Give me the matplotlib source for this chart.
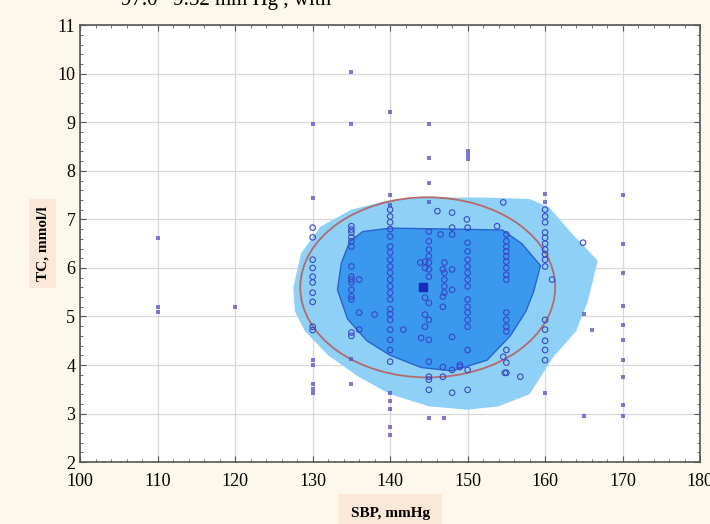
import numpy as np
import matplotlib.pyplot as plt
from matplotlib.patches import Ellipse, Polygon
from matplotlib.ticker import MultipleLocator

plt.rcParams['font.family'] = ['Liberation Serif', 'DejaVu Serif']

# points outside the confidence region (drawn as small filled stars)
x_out = [110, 110, 110, 120,
         130, 130, 130, 130, 130, 130, 130,
         135, 135, 135, 135,
         140, 140, 140, 140, 140, 140, 140, 140,
         145, 145, 145, 145, 145, 147,
         150, 150, 150,
         160, 160, 160,
         165, 165, 166,
         170, 170, 170, 170, 170, 170, 170, 170, 170, 170]
y_out = [6.62, 5.2, 5.1, 5.2,
         8.96, 7.45, 4.1, 4.0, 3.62, 3.5, 3.42,
         10.04, 8.96, 4.12, 3.62,
         9.22, 7.5, 7.3, 3.42, 3.25, 3.1, 2.72, 2.55,
         8.96, 8.26, 7.74, 7.35, 2.9, 2.9,
         8.4, 8.32, 8.24,
         7.52, 7.35, 3.42,
         5.06, 2.95, 4.72,
         7.5, 6.5, 5.9, 5.22, 4.82, 4.52, 4.1, 3.75, 3.18, 2.95]

# points inside (drawn as open circles)
x_in = [130, 130, 130, 130, 130, 130, 130, 130, 130, 130,
        135, 135, 135, 135, 135, 135, 135, 135, 135, 135, 135, 135, 135, 135,
        136, 136, 136, 138, 135,
        140, 140, 140, 140, 140, 140, 140, 140, 140, 140, 140,
        140, 140, 140, 140, 140, 140, 140, 140, 140, 140,
        141.7, 143.9, 144, 144.5, 144.5, 144.5, 144.5, 144.5,
        145, 145, 145, 145, 145, 145, 145, 145, 145, 145, 145, 145, 145, 145,
        146.1, 146.5, 146.8, 146.8, 146.8, 146.8, 146.8,
        147, 147, 147, 147, 147,
        148, 148, 148, 148, 148, 148, 148, 148, 149, 149,
        150, 150, 150, 150, 150, 150, 150, 150, 150, 150, 150, 150, 150, 150, 150,
        150, 149.9,
        153.8, 154.6, 154.6, 154.8,
        155, 155, 155, 155, 155, 155, 155, 155, 155,
        155, 155, 155, 155, 155, 155, 155, 156.8,
        160, 160, 160, 160, 160, 160, 160, 160, 160, 160,
        160, 160, 160, 160, 160, 160.9, 164.9]
y_in = [6.83, 6.63, 6.17, 6.0, 5.82, 5.7, 5.49, 5.3, 4.79, 4.72,
        6.86, 6.79, 6.73, 6.63, 6.55, 6.44, 6.03, 5.82, 5.76, 5.7, 5.55, 5.41, 5.35, 4.67,
        5.76, 5.08, 4.73, 5.04, 4.6,
        7.2, 7.06, 6.94, 6.8, 6.65, 6.44, 6.32, 6.17, 6.03, 5.9, 5.76,
        5.62, 5.49, 5.35, 5.15, 4.93, 4.73, 4.52, 4.31, 4.07, 5.05,
        4.73, 6.11, 4.56, 6.13, 6.0, 5.39, 5.04, 4.79,
        6.75, 6.55, 6.38, 6.24, 6.11, 5.97, 5.82, 5.28, 4.93, 4.52, 4.07, 3.76, 3.49, 3.7,
        7.17, 6.69, 5.97, 5.41, 5.2, 3.96, 3.76,
        6.11, 5.9, 5.76, 5.62, 5.49,
        7.14, 6.83, 6.69, 5.97, 5.55, 4.58, 3.43, 3.9, 4.0, 3.96,
        6.83, 6.52, 6.34, 6.17, 6.03, 5.9, 5.76, 5.62, 5.35, 5.2, 5.08, 4.93, 4.79, 4.31, 3.9,
        3.49, 7.0,
        6.86, 7.35, 4.17, 3.84,
        6.69, 6.55, 6.44, 6.34, 6.24, 6.13, 6.0, 5.86, 5.76,
        5.08, 4.93, 4.79, 4.69, 4.31, 4.05, 3.84, 3.76,
        7.2, 7.06, 6.94, 6.73, 6.62, 6.5, 6.38, 6.28, 6.17, 6.03,
        4.93, 4.73, 4.5, 4.31, 4.1, 5.76, 6.52]

# centroid
cx, cy = 144.3, 5.6

# outer (light) region outline
outer_x = [127.5, 128.5, 131, 135, 140, 145, 152, 158, 160.5, 163.5, 166.8,
           165.5, 164, 161, 158, 154, 150, 145, 140, 136, 132, 129, 127.7]
outer_y = [5.6, 6.3, 6.85, 7.2, 7.4, 7.45, 7.45, 7.42, 7.25, 6.7, 6.15,
           5.3, 4.7, 4.15, 3.4, 3.15, 3.08, 3.15, 3.4, 3.75, 4.2, 4.7, 5.1]

# inner (dark) region outline
inner_x = [133.2, 133.7, 134.8, 136.5, 140, 148, 154.5, 157, 159.4, 158.5,
           157.5, 155.5, 152.5, 148, 144, 140, 137, 134.5]
inner_y = [5.55, 6.1, 6.55, 6.75, 6.82, 6.8, 6.78, 6.5, 6.05, 5.5,
           5.1, 4.6, 4.1, 3.88, 3.95, 4.2, 4.5, 4.95]

# ellipse parameters
ell_cx, ell_cy = 144.85, 5.6
ell_w, ell_h = 32.9, 3.71

fig = plt.figure(figsize=(7.1, 5.24), dpi=100)
fig.patch.set_facecolor('#fdf7ec')
ax = fig.add_axes([0.113, 0.118, 0.873, 0.834])
ax.set_facecolor('white')

ax.add_patch(Polygon(np.column_stack([outer_x, outer_y]), closed=True,
                     facecolor='#8fd0f6', edgecolor='none', zorder=1))
ax.add_patch(Polygon(np.column_stack([inner_x, inner_y]), closed=True,
                     facecolor='#3a98ee', edgecolor='#2a62d0', lw=1.0, zorder=2))
ax.add_patch(Ellipse((ell_cx, ell_cy), ell_w, ell_h, fill=False,
                     edgecolor='#b46a6a', lw=1.3, zorder=3))

ax.scatter(x_in, y_in, s=16, facecolors='none', edgecolors='#3848c8',
           linewidths=0.8, zorder=4)
ax.scatter(x_out, y_out, s=9, marker='s', color='#5050c8', alpha=0.75,
           linewidths=0, zorder=4)
ax.scatter([cx], [cy], s=28, marker='s', color='#1a2ab8', zorder=5)

ax.set_xlim(100, 180)
ax.set_ylim(2, 11)
ax.xaxis.set_major_locator(MultipleLocator(10))
ax.yaxis.set_major_locator(MultipleLocator(1))
ax.xaxis.set_minor_locator(MultipleLocator(2))
ax.yaxis.set_minor_locator(MultipleLocator(0.2))
ax.grid(True, which='major', color='#d8d8dc', lw=0.9)
ax.set_axisbelow(True)
ax.tick_params(which='both', direction='in', top=True, right=True,
               color='#555555', labelsize=13)
ax.tick_params(which='major', length=4)
ax.tick_params(which='minor', length=2.5)
ax.tick_params(axis='x', pad=8)
for s in ax.spines.values():
    s.set_color('#555555')
    s.set_linewidth(1.2)

ax.set_xlabel('SBP, mmHg', fontsize=11, fontweight='bold', labelpad=12,
              bbox=dict(facecolor='#fbe8d6', edgecolor='none', pad=9))
ax.set_ylabel('TC, mmol/l', fontsize=11, fontweight='bold', labelpad=6,
              bbox=dict(facecolor='#fbe8d6', edgecolor='none', pad=5))

fig.text(0.17, 1.0, '97.0   9.52 mm Hg , with', fontsize=15,
         va='center', ha='left')

fig.savefig('out.png', dpi=100, facecolor=fig.get_facecolor())
